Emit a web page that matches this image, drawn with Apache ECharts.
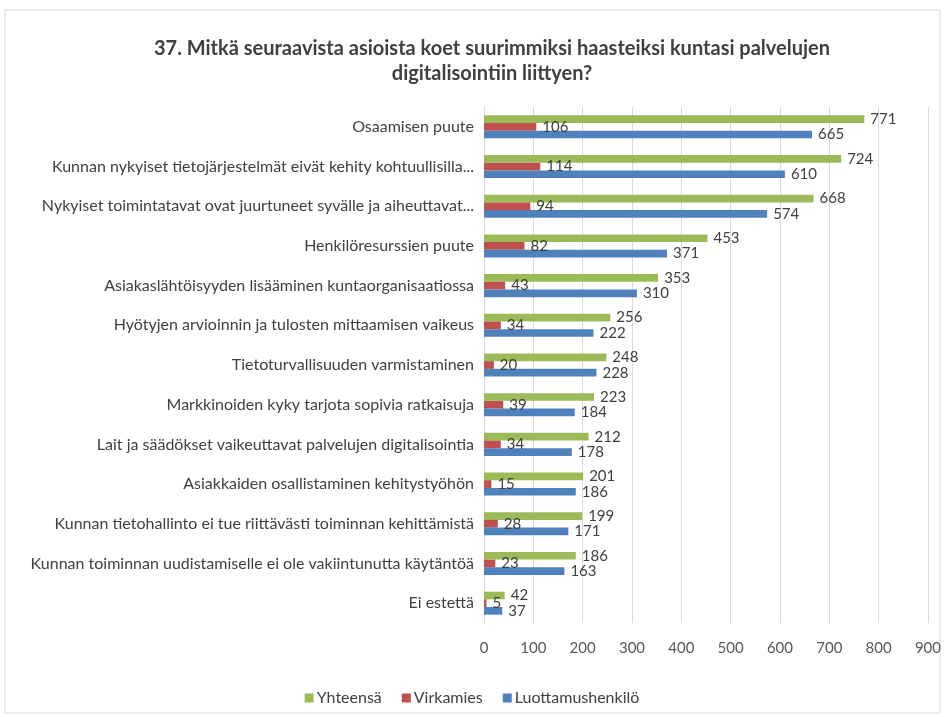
<!DOCTYPE html>
<html>
<head>
<meta charset="utf-8">
<script src="https://cdn.jsdelivr.net/npm/echarts@6/dist/echarts.min.js"></script>
<style>
  html, body { margin: 0; padding: 0; background: #fff; }
  #chart { width: 944px; height: 717px; }
</style>
</head>
<body>
<div id="chart"></div>
<script>
// kategoriat ylhäältä alas
const categories = [
    'Osaamisen puute',
    'Kunnan nykyiset tietojärjestelmät eivät kehity kohtuullisilla...',
    'Nykyiset toimintatavat ovat juurtuneet syvälle ja aiheuttavat...',
    'Henkilöresurssien puute',
    'Asiakaslähtöisyyden lisääminen kuntaorganisaatiossa',
    'Hyötyjen arvioinnin ja tulosten mittaamisen vaikeus',
    'Tietoturvallisuuden varmistaminen',
    'Markkinoiden kyky tarjota sopivia ratkaisuja',
    'Lait ja säädökset vaikeuttavat palvelujen digitalisointia',
    'Asiakkaiden osallistaminen kehitystyöhön',
    'Kunnan tietohallinto ei tue riittävästi toiminnan kehittämistä',
    'Kunnan toiminnan uudistamiselle ei ole vakiintunutta käytäntöä',
    'Ei estettä'
];
const yhteensa = [771, 724, 668, 453, 353, 256, 248, 223, 212, 201, 199, 186, 42];
const virkamies = [106, 114, 94, 82, 43, 34, 20, 39, 34, 15, 28, 23, 5];
const luottamus = [665, 610, 574, 371, 310, 222, 228, 184, 178, 186, 171, 163, 37];
const xTicks = [0, 100, 200, 300, 400, 500, 600, 700, 800, 900];

const font = 'Lato, "Open Sans", sans-serif';
const labelStyle = {
    show: true,
    position: 'right',
    distance: 6,
    color: '#404040',
    fontFamily: font,
    fontSize: 15
};

function bar(name, data, color) {
    return {
        name: name,
        type: 'bar',
        data: data,
        barGap: '0%',
        barCategoryGap: '42%',
        itemStyle: { color: color },
        label: labelStyle
    };
}

const chart = echarts.init(document.getElementById('chart'));
chart.setOption({
    animation: false,
    title: {
        text: '37. Mitkä seuraavista asioista koet suurimmiksi haasteiksi kuntasi palvelujen\ndigitalisointiin liittyen?',
        left: 487,
        top: 31,
        textAlign: 'center',
        textStyle: {
            fontFamily: font,
            fontSize: 20,
            fontWeight: 'bold',
            color: '#404040',
            lineHeight: 25
        }
    },
    legend: {
        data: ['Yhteensä', 'Virkamies', 'Luottamushenkilö'],
        bottom: 6,
        left: 'center',
        itemWidth: 9,
        itemHeight: 9,
        itemGap: 20,
        icon: 'rect',
        textStyle: { fontFamily: font, fontSize: 16, color: '#404040', padding: [0, 0, 0, -2] }
    },
    grid: { left: 484, right: 16, top: 107, bottom: 94 },
    xAxis: {
        type: 'value',
        min: xTicks[0],
        max: xTicks[xTicks.length - 1],
        interval: 100,
        axisLine: { show: false },
        axisTick: { show: false },
        axisLabel: { color: '#595959', fontFamily: font, fontSize: 15, margin: 18 },
        splitLine: { lineStyle: { color: '#d9d9d9' } }
    },
    yAxis: {
        type: 'category',
        data: categories,
        inverse: true,
        axisLine: { lineStyle: { color: '#d9d9d9' } },
        axisTick: { show: false },
        axisLabel: { color: '#404040', fontFamily: font, fontSize: 16, margin: 10 }
    },
    series: [
        bar('Yhteensä', yhteensa, '#9bbb59'),
        bar('Virkamies', virkamies, '#c0504d'),
        bar('Luottamushenkilö', luottamus, '#4f81bd')
    ],
    graphic: [{
        type: 'rect',
        shape: { x: 5, y: 10, width: 935, height: 703 },
        style: { fill: 'none', stroke: '#d9d9d9', lineWidth: 1 },
        silent: true
    }]
});
</script>
</body>
</html>
